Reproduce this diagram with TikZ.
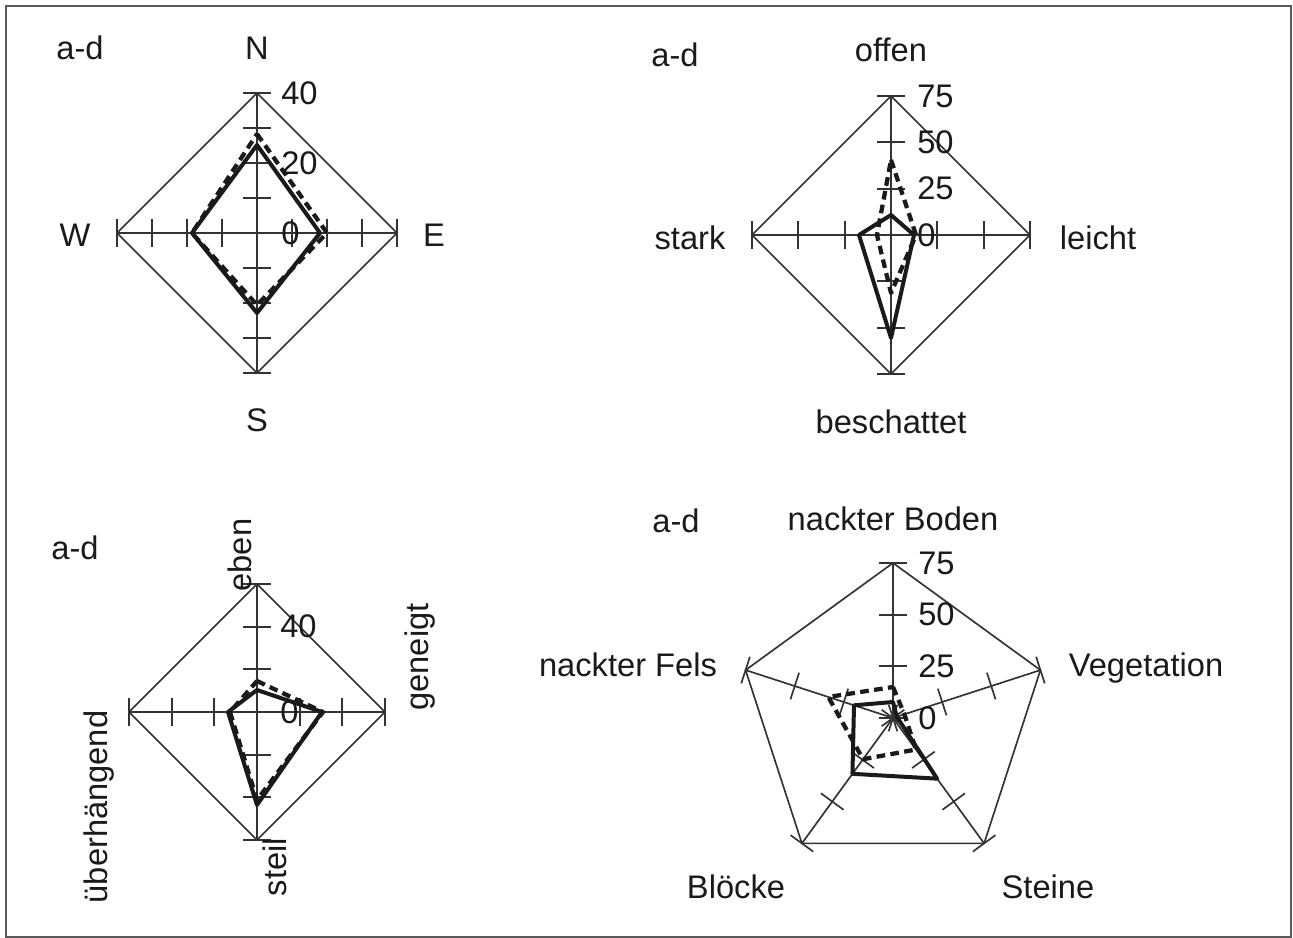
\documentclass[tikz,border=0pt]{standalone}
\usepackage{fontspec}
\setmainfont{Liberation Sans}
\definecolor{axisgray}{HTML}{333333}
\definecolor{inkblack}{HTML}{1A1A1A}
\definecolor{framegray}{HTML}{5A5A5A}
\tikzstyle{axis} = [draw=axisgray, line width=1.25pt]
\tikzstyle{solidline} = [draw=inkblack, line width=3pt, line join=round]
\tikzstyle{dashline} = [draw=inkblack, line width=3.2pt, line join=round,
dash pattern=on 6.5pt off 4pt]
\tikzstyle{lbl} = [text=inkblack, inner sep=0pt, anchor=base,
font=\fontsize{24.5}{29}\selectfont]
\tikzstyle{num} = [lbl, anchor=west]
\tikzstyle{vlbl} = [lbl, anchor=center, rotate=90]

\begin{document}
\begin{tikzpicture}[x=0.75pt, y=0.75pt]
\useasboundingbox (0,0) rectangle (1293,938);
\draw[framegray, line width=1.5pt] (6,1) rectangle (1291,932);

% Exposition
\begin{scope}[shift={(257,705)}]
    \foreach \a in {0,90,180,270}
        \draw[axis, rotate=\a] (0,0) -- (140,0) \foreach \r in {0,35,70,105,140} {(\r,-14) -- (\r,14)};
    \draw[axis] (0,140) -- (140,0) -- (0,-140) -- (-140,0) -- cycle;
    \node (expo40) [num] at (24,140) {40};
    \node (expo20) [num] at (24,70) {20};
    \node (expo0) [num] at (24,0) {0};
    \draw[solidline] (0,88) -- (63,0) -- (0,-80) -- (-65,0) -- cycle;
    \draw[dashline] (0,99) -- (70,0) -- (0,-72) -- (-65,0) -- cycle;
\end{scope}
\node (expoAD) [lbl] at (80,878) {a-d};
\node (expoN) [lbl] at (257,878) {N};
\node (expoW) [lbl] at (75,691) {W};
\node (expoE) [lbl] at (434,691) {E};
\node (expoS) [lbl] at (257,506) {S};

% Beschattung
\begin{scope}[shift={(891,703)}]
    \foreach \a in {0,90,180,270}
        \draw[axis, rotate=\a] (0,0) -- (139,0) \foreach \r in {0,46.3,92.7,139} {(\r,-14) -- (\r,14)};
    \draw[axis] (0,139) -- (139,0) -- (0,-139) -- (-139,0) -- cycle;
    \node (shade75) [num] at (26,139) {75};
    \node (shade50) [num] at (26,92.7) {50};
    \node (shade25) [num] at (26,46.3) {25};
    \node (shade0) [num] at (26,0) {0};
    \draw[solidline] (0,20) -- (23,0) -- (0,-103) -- (-32,0) -- cycle;
    \draw[dashline] (0,75) -- (25,0) -- (0,-58) -- (-14,0) -- cycle;
\end{scope}
\node (shadeAD) [lbl] at (675,871) {a-d};
\node (shadeOpen) [lbl] at (891,876) {offen};
\node (shadeStrong) [lbl] at (690,688) {stark};
\node (shadeLight) [lbl] at (1098,688) {leicht};
\node (shadeFull) [lbl] at (891,504) {beschattet};

% Neigung
\begin{scope}[shift={(257,226)}]
    \foreach \a in {0,90,180,270}
        \draw[axis, rotate=\a] (0,0) -- (128,0) \foreach \r in {0,42.7,85.3,128} {(\r,-14) -- (\r,14)};
    \draw[axis] (0,128) -- (128,0) -- (0,-128) -- (-128,0) -- cycle;
    \node (slope40) [num] at (23,85.3) {40};
    \node (slope0) [num] at (23,0) {0};
    \draw[solidline] (0,22) -- (65,0) -- (0,-93) -- (-29,0) -- cycle;
    \draw[dashline] (0,31) -- (66,0) -- (0,-88) -- (-27,0) -- cycle;
\end{scope}
\node (slopeAD) [lbl] at (75,378) {a-d};
\node (slopeFlat) [vlbl] at (240,383) {eben};
\node (slopeTilt) [vlbl] at (420,281) {geneigt};
\node (slopeOver) [vlbl] at (99,131) {überhängend};
\node (slopeSteep) [vlbl] at (275,71) {steil};

% Untergrund
\begin{scope}[shift={(893,220)}]
    \foreach \a in {90,18,-54,-126,162}
        \draw[axis, rotate=\a] (0,0) -- (155,0) \foreach \r in {0,51.7,103.3,155} {(\r,-14) -- (\r,14)};
    \draw[axis] (90:155) -- (18:155) -- (-54:155) -- (-126:155) -- (162:155) -- cycle;
    \node (ground75) [num] at (25,155) {75};
    \node (ground50) [num] at (25,103.3) {50};
    \node (ground25) [num] at (25,51.7) {25};
    \node (ground0) [num] at (25,0) {0};
    \draw[solidline] (90:16) -- (18:4) -- (-54:75) -- (-126:69) -- (162:41) -- cycle;
    \draw[dashline] (90:31) -- (18:12) -- (-54:39) -- (-126:51) -- (162:68) -- cycle;
\end{scope}
\node (groundAD) [lbl] at (676,405) {a-d};
\node (groundSoil) [lbl] at (893,407) {nackter Boden};
\node (groundRock) [lbl] at (628,261) {nackter Fels};
\node (groundVeg) [lbl] at (1146,261) {Vegetation};
\node (groundBlock) [lbl] at (736,39) {Blöcke};
\node (groundStone) [lbl] at (1048,39) {Steine};
\end{tikzpicture}
\end{document}
